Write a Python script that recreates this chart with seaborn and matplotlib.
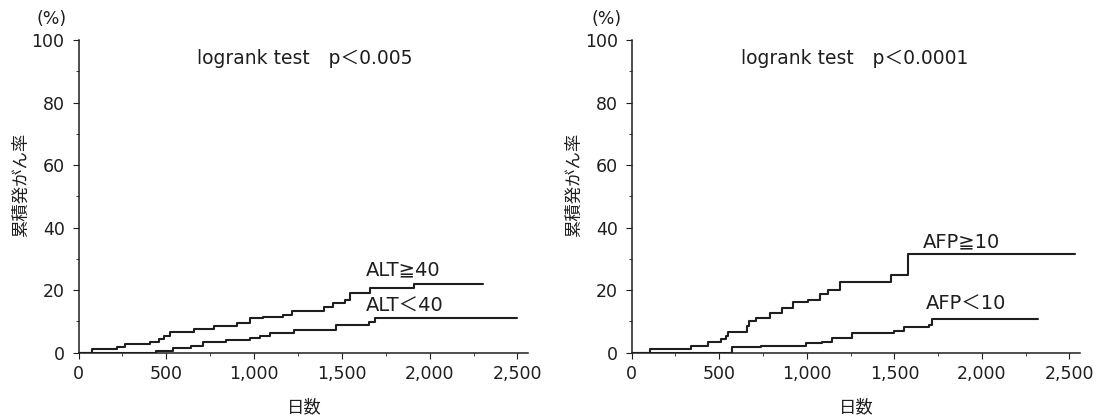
import matplotlib
matplotlib.use("Agg")
import matplotlib.pyplot as plt
from matplotlib.ticker import MultipleLocator, FuncFormatter
import numpy as np
import pandas as pd
import seaborn as sns

# Cumulative cancer incidence (%) by days, step curves
alt_hi_days = [0, 76, 218, 266, 410, 461, 486, 522, 660, 770, 904, 978, 1053, 1163, 1215,
               1401, 1448, 1520, 1547, 1661, 1913, 2306]
alt_hi_rate = [0, 1.1, 1.7, 2.7, 3.5, 4.3, 5.3, 6.6, 7.7, 8.5, 9.6, 11.0, 11.5, 12.0, 13.3,
               14.7, 16.0, 16.8, 19.2, 20.8, 21.9, 21.9]

alt_lo_days = [0, 442, 537, 638, 708, 841, 978, 1031, 1092, 1230, 1464, 1657, 1686, 2496]
alt_lo_rate = [0, 0.6, 1.6, 2.2, 3.3, 4.1, 4.6, 5.3, 6.2, 7.3, 8.8, 9.9, 11.0, 11.0]

afp_hi_days = [0, 106, 340, 437, 508, 536, 549, 656, 669, 707, 789, 859, 922, 1004, 1074,
               1122, 1192, 1483, 1576, 2529]
afp_hi_rate = [0, 1.1, 2.2, 3.3, 4.3, 5.4, 6.7, 8.5, 10.1, 11.2, 12.8, 14.3, 16.1, 17.0, 18.7,
               20.2, 22.6, 24.8, 31.5, 31.5]

afp_lo_days = [0, 570, 736, 993, 1088, 1144, 1258, 1496, 1553, 1696, 1715, 2320]
afp_lo_rate = [0, 1.7, 2.2, 3.0, 3.3, 4.6, 6.4, 7.0, 8.1, 8.8, 10.8, 10.8]

group_labels_alt = ["ALT≧40", "ALT＜40"]
group_labels_afp = ["AFP≧10", "AFP＜10"]
tests = ["logrank test\u3000p＜0.005", "logrank test\u3000p＜0.0001"]

x_ticks = [0, 500, 1000, 1500, 2000, 2500]
y_ticks = [0, 20, 40, 60, 80, 100]

sns.set_theme(style="ticks")
plt.rcParams["font.family"] = ["DejaVu Sans", "Noto Sans CJK JP"]
CJK = ["Noto Sans CJK JP", "DejaVu Sans"]
INK = "#1e1e1e"
plt.rcParams.update({
    "axes.edgecolor": INK, "xtick.color": INK, "ytick.color": INK,
    "text.color": INK, "axes.labelcolor": INK,
})

W, H = 1099, 417
fig = plt.figure(figsize=(W / 100, H / 100), dpi=100)


def px(x, y):
    return x / W, 1 - y / H


def make_frame(days_a, rate_a, days_b, rate_b, labels):
    a = pd.DataFrame({"day": days_a, "rate": rate_a, "group": labels[0]})
    b = pd.DataFrame({"day": days_b, "rate": rate_b, "group": labels[1]})
    return pd.concat([a, b], ignore_index=True)


panels = [
    dict(rect=[78.5 / W, 1 - 352.7 / H, 449.5 / W, 312.7 / H],
         df=make_frame(alt_hi_days, alt_hi_rate, alt_lo_days, alt_lo_rate, group_labels_alt),
         labels=group_labels_alt, test=tests[0],
         label_pos=[(366, 270), (366, 306)], test_pos=(197, 58), pct=(52, 19),
         ylab_x=21, xlab_x=304),
    dict(rect=[631.7 / W, 1 - 352.7 / H, 448.3 / W, 312.7 / H],
         df=make_frame(afp_hi_days, afp_hi_rate, afp_lo_days, afp_lo_rate, group_labels_afp),
         labels=group_labels_afp, test=tests[1],
         label_pos=[(923, 242), (926, 304)], test_pos=(741, 58), pct=(607, 19),
         ylab_x=574, xlab_x=856),
]

for p in panels:
    ax = fig.add_axes(p["rect"])
    sns.lineplot(data=p["df"], x="day", y="rate", hue="group", estimator=None,
                 drawstyle="steps-post", palette=[INK, INK], linewidth=1.5,
                 legend=False, ax=ax)
    ax.set_xlim(0, 2560)
    ax.set_ylim(0, 100)
    ax.set_xticks(x_ticks)
    ax.set_yticks(y_ticks)
    ax.xaxis.set_minor_locator(MultipleLocator(250))
    ax.yaxis.set_minor_locator(MultipleLocator(10))
    ax.xaxis.set_major_formatter(FuncFormatter(lambda v, _: f"{int(v):,}"))
    ax.tick_params(axis="both", which="major", length=4, width=0.8, labelsize=12.5, pad=5)
    ax.tick_params(axis="y", which="major", pad=6)
    ax.tick_params(axis="both", which="minor", length=2, width=0.6)
    for s in ("top", "right"):
        ax.spines[s].set_visible(False)
    for s in ("left", "bottom"):
        ax.spines[s].set_linewidth(1.1)
    ax.set_xlabel("")
    ax.set_ylabel("")
    ax.grid(False)

    fig.text(*px(p["xlab_x"], 407), "日数", fontsize=12.5, family=CJK,
             ha="center", va="center")
    fig.text(*px(p["ylab_x"], 185), "累積発がん率", fontsize=12.5, family=CJK, rotation=90,
             ha="center", va="center")
    fig.text(*px(*p["pct"]), "(%)", fontsize=12.5, ha="center", va="center")
    fig.text(*px(*p["test_pos"]), p["test"], fontsize=13.5, ha="left", va="center")
    for lab, pos in zip(p["labels"], p["label_pos"]):
        fig.text(*px(*pos), lab, fontsize=14, ha="left", va="center")

fig.savefig("out.png", dpi=100, facecolor="white")
